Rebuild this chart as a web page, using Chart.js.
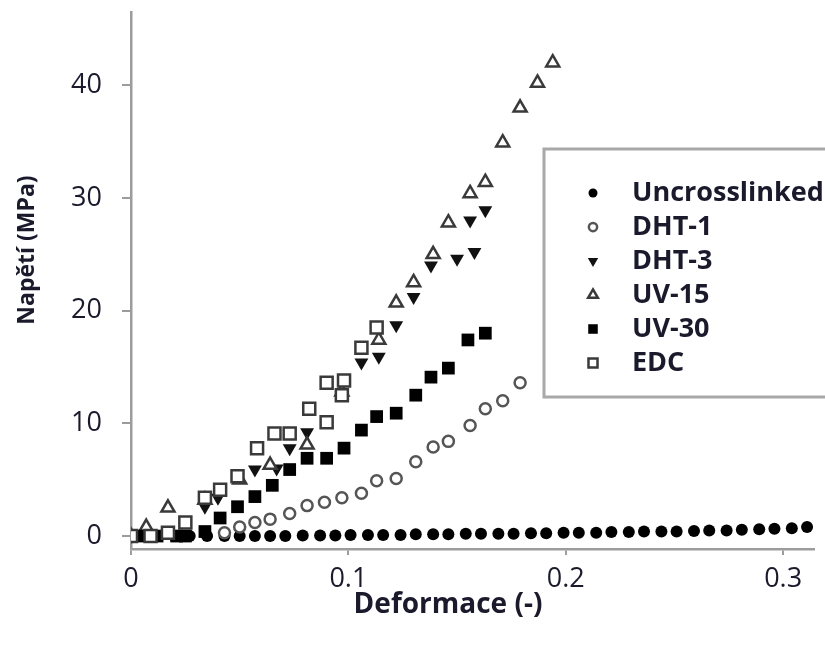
<!DOCTYPE html>
<html>
<head>
<meta charset="utf-8">
<script src="https://cdn.jsdelivr.net/npm/chart.js@4.4.0/dist/chart.umd.min.js"></script>
<style>
  body { margin: 0; background: #fff; }
</style>
</head>
<body>
<canvas id="chartNapeti" width="825" height="647"></canvas>
<script>
// Tahové zkoušky - napětí vs. deformace pro jednotlivé typy síťování

const xTicks = [0, 0.1, 0.2, 0.3];
const yTicks = [0, 10, 20, 30, 40];
const xTitle = 'Deformace (-)';
const yTitle = 'Napětí (MPa)';
const seriesNames = ['Uncrosslinked', 'DHT-1', 'DHT-3', 'UV-15', 'UV-30', 'EDC'];

const uncrossX = [0.005, 0.012, 0.02, 0.027, 0.035, 0.043, 0.05, 0.057, 0.064, 0.071,
                  0.079, 0.087, 0.094, 0.101, 0.109, 0.116, 0.124, 0.131, 0.139, 0.146,
                  0.154, 0.161, 0.169, 0.176, 0.184, 0.191, 0.199, 0.206, 0.214, 0.221,
                  0.229, 0.236, 0.244, 0.251, 0.259, 0.266, 0.274, 0.281, 0.289, 0.296,
                  0.304, 0.311];
const uncrossY = [0, 0, 0, 0, 0, 0, 0, 0, 0, 0,
                  0.05, 0.05, 0.05, 0.1, 0.1, 0.1, 0.1, 0.15, 0.15, 0.15,
                  0.2, 0.2, 0.2, 0.2, 0.25, 0.25, 0.3, 0.3, 0.3, 0.35,
                  0.35, 0.4, 0.4, 0.4, 0.45, 0.5, 0.5, 0.55, 0.6, 0.65,
                  0.7, 0.8];

const dht1X = [0, 0.009, 0.043, 0.05, 0.057, 0.064, 0.073, 0.081, 0.089, 0.097,
               0.106, 0.113, 0.122, 0.131, 0.139, 0.146, 0.156, 0.163, 0.171, 0.179];
const dht1Y = [0, 0, 0.3, 0.8, 1.2, 1.5, 2.0, 2.7, 3.0, 3.4,
               3.8, 4.9, 5.1, 6.6, 7.9, 8.4, 9.8, 11.3, 12.0, 13.6];

const dht3X = [0, 0.009, 0.034, 0.040, 0.057, 0.067, 0.073, 0.081, 0.106, 0.114,
               0.122, 0.130, 0.138, 0.150, 0.158, 0.156, 0.163];
const dht3Y = [0, 0.1, 2.6, 3.4, 5.9, 6.0, 7.8, 9.2, 15.4, 15.9,
               18.7, 21.2, 24.0, 24.6, 25.2, 28.0, 28.9];

const uv15X = [0, 0.007, 0.017, 0.034, 0.05, 0.064, 0.081, 0.097, 0.114, 0.122,
               0.130, 0.139, 0.146, 0.156, 0.163, 0.171, 0.179, 0.187, 0.194];
const uv15Y = [0, 0.8, 2.5, 3.2, 5.0, 6.3, 8.1, 12.8, 17.4, 20.7,
               22.5, 25.0, 27.8, 30.4, 31.4, 34.9, 38.0, 40.2, 42.0];

const uv30X = [0.005, 0.012, 0.021, 0.025, 0.034, 0.041, 0.049, 0.057, 0.065, 0.073,
               0.081, 0.090, 0.098, 0.106, 0.113, 0.122, 0.131, 0.138, 0.146, 0.155,
               0.163];
const uv30Y = [0, 0, 0, 0, 0.4, 1.6, 2.6, 3.5, 4.5, 5.9,
               6.9, 6.9, 7.8, 9.4, 10.6, 10.9, 12.5, 14.1, 14.9, 17.4,
               18.0];

const edcX = [0, 0.009, 0.017, 0.025, 0.034, 0.041, 0.049, 0.058, 0.066, 0.073,
              0.082, 0.090, 0.090, 0.097, 0.098, 0.106, 0.113];
const edcY = [0, 0, 0.3, 1.2, 3.4, 4.1, 5.3, 7.8, 9.1, 9.1,
              11.3, 10.1, 13.6, 12.5, 13.8, 16.7, 18.5];

const textColor = '#1a1a2c';
const axisColor = '#9c9c9c';

function toPoints(xs, ys) {
    return xs.map((x, i) => ({ x: x, y: ys[i] }));
}

// styly značek jednotlivých sérií
const markerStyles = [
    { pointStyle: 'circle',   rotation: 0,   radius: 6,   bg: '#000',  border: '#000',  bw: 0 },
    { pointStyle: 'circle',   rotation: 0,   radius: 5.5, bg: '#fff',  border: '#555',  bw: 2.5 },
    { pointStyle: 'triangle', rotation: 180, radius: 8,   bg: '#111',  border: '#111',  bw: 0 },
    { pointStyle: 'triangle', rotation: 0,   radius: 7.5, bg: '#fff',  border: '#3a3a3a', bw: 2.5 },
    { pointStyle: 'rect',     rotation: 0,   radius: 9,   bg: '#000',  border: '#000',  bw: 0 },
    { pointStyle: 'rect',     rotation: 0,   radius: 8.5, bg: '#fff',  border: '#3a3a3a', bw: 2.5 }
];

const seriesData = [
    toPoints(uncrossX, uncrossY),
    toPoints(dht1X, dht1Y),
    toPoints(dht3X, dht3Y),
    toPoints(uv15X, uv15Y),
    toPoints(uv30X, uv30Y),
    toPoints(edcX, edcY)
];

// legenda a popisky os kreslené přímo do plátna
const popisky = {
    id: 'popisky',
    afterDraw(chart) {
        const ctx = chart.ctx;

        ctx.save();
        ctx.fillStyle = textColor;
        ctx.textAlign = 'center';
        ctx.textBaseline = 'middle';
        ctx.font = 'bold 28px "Open Sans"';
        ctx.fillText(xTitle, 448, 605);
        ctx.translate(27, 250);
        ctx.rotate(-Math.PI / 2);
        ctx.font = 'bold 23px "Open Sans"';
        ctx.fillText(yTitle, 0, 0);
        ctx.restore();

        // rámeček legendy
        ctx.save();
        ctx.fillStyle = '#fff';
        ctx.fillRect(544, 149, 290, 248);
        ctx.strokeStyle = '#a8a8a8';
        ctx.lineWidth = 3;
        ctx.strokeRect(544, 149, 290, 248);

        seriesNames.forEach((name, i) => {
            const y = 193 + 34 * i;
            const m = markerStyles[i];
            ctx.fillStyle = m.bg;
            ctx.strokeStyle = m.border;
            ctx.lineWidth = m.bw;
            Chart.helpers.drawPoint(ctx, {
                pointStyle: m.pointStyle,
                rotation: m.rotation,
                radius: m.radius * 0.75,
                borderWidth: m.bw
            }, 593, y);

            ctx.fillStyle = textColor;
            ctx.font = 'bold 27px "Open Sans"';
            ctx.textAlign = 'left';
            ctx.textBaseline = 'middle';
            ctx.fillText(name, 632, y);
        });
        ctx.restore();
    }
};

const ctx = document.getElementById('chartNapeti').getContext('2d');

new Chart(ctx, {
    type: 'scatter',
    data: {
        datasets: seriesNames.map((name, i) => ({
            label: name,
            data: seriesData[i],
            order: seriesNames.length - i,
            pointStyle: markerStyles[i].pointStyle,
            rotation: markerStyles[i].rotation,
            pointRadius: markerStyles[i].radius,
            backgroundColor: markerStyles[i].bg,
            borderColor: markerStyles[i].border,
            borderWidth: markerStyles[i].bw,
            showLine: false
        }))
    },
    options: {
        responsive: false,
        animation: false,
        layout: {
            padding: { left: 0, top: 12, right: 0, bottom: 0 }
        },
        plugins: {
            legend: { display: false },
            tooltip: { enabled: false }
        },
        scales: {
            x: {
                type: 'linear',
                min: 0,
                max: 0.3142,
                afterBuildTicks: scale => { scale.ticks = xTicks.map(v => ({ value: v })); },
                afterFit: scale => {
                    scale.height = 98;
                    scale.paddingLeft = 0;
                    scale.paddingRight = 0;
                },
                border: { display: true, color: axisColor, width: 2.5 },
                grid: { drawOnChartArea: false, drawTicks: true, tickLength: 6, color: axisColor, lineWidth: 2 },
                ticks: {
                    color: textColor,
                    padding: 8,
                    font: { family: 'Open Sans', size: 27 },
                    callback: v => String(v)
                }
            },
            y: {
                type: 'linear',
                min: -1.15,
                max: 46.5,
                afterBuildTicks: scale => { scale.ticks = yTicks.map(v => ({ value: v })); },
                afterFit: scale => {
                    scale.width = 131;
                    scale.paddingTop = 0;
                    scale.paddingBottom = 0;
                },
                border: { display: true, color: axisColor, width: 2.5 },
                grid: { drawOnChartArea: false, drawTicks: true, tickLength: 9, color: axisColor, lineWidth: 2 },
                ticks: {
                    color: textColor,
                    padding: 20,
                    font: { family: 'Open Sans', size: 27 },
                    callback: v => String(v)
                }
            }
        }
    },
    plugins: [popisky]
});
</script>
</body>
</html>
